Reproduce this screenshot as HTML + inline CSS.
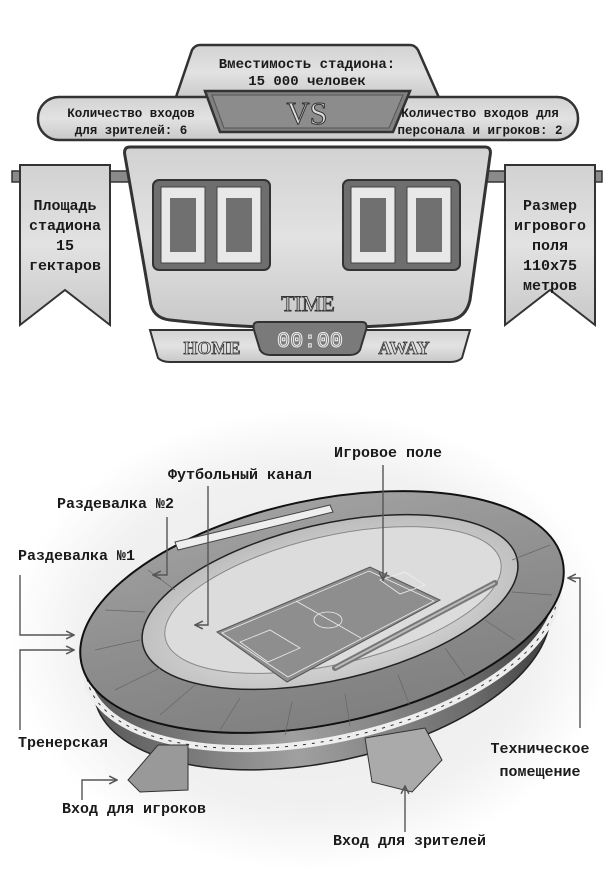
<!DOCTYPE html>
<html><head><meta charset="utf-8"><style>
html,body{margin:0;padding:0;background:#fff}
svg{display:block}
text{font-family:"Liberation Mono","DejaVu Sans Mono",monospace;font-weight:bold;fill:#1a1a1a}
</style></head><body>
<svg width="613" height="886" viewBox="0 0 613 886" xmlns="http://www.w3.org/2000/svg">
<defs>
<radialGradient id="bg" cx="50%" cy="50%" r="50%"><stop offset="0" stop-color="#e8e8e8"/><stop offset="0.75" stop-color="#f1f1f1"/><stop offset="1" stop-color="#fff"/></radialGradient>
<linearGradient id="pan" x1="0" y1="0" x2="0" y2="1"><stop offset="0" stop-color="#d2d2d2"/><stop offset="0.5" stop-color="#e2e2e2"/><stop offset="1" stop-color="#c8c8c8"/></linearGradient>
<linearGradient id="roof" x1="0" y1="0" x2="0" y2="1"><stop offset="0" stop-color="#a0a0a0"/><stop offset="0.5" stop-color="#8e8e8e"/><stop offset="1" stop-color="#808080"/></linearGradient>
<linearGradient id="base" x1="0" y1="0" x2="1" y2="0"><stop offset="0" stop-color="#5a5a5a"/><stop offset="0.4" stop-color="#a0a0a0"/><stop offset="0.8" stop-color="#6a6a6a"/><stop offset="1" stop-color="#3a3a3a"/></linearGradient>
<radialGradient id="inner" cx="50%" cy="55%" r="55%"><stop offset="0" stop-color="#f4f4f4"/><stop offset="1" stop-color="#bcbcbc"/></radialGradient>
<marker id="ah" viewBox="0 0 10 10" refX="9" refY="5" markerWidth="7" markerHeight="7" orient="auto"><path d="M1,1 L9,5 L1,9" fill="none" stroke="#555" stroke-width="1.5"/></marker>
</defs>

<ellipse cx="310" cy="640" rx="300" ry="230" fill="url(#bg)"/>

<!-- ===== Scoreboard ===== -->
<rect x="12" y="171" width="590" height="11" fill="#8a8a8a" stroke="#333" stroke-width="1.5"/>
<path d="M20,165 H110 V325 L65,290 L20,325 Z" fill="url(#pan)" stroke="#333" stroke-width="2"/>
<path d="M505,165 H595 V325 L550,290 L505,325 Z" fill="url(#pan)" stroke="#333" stroke-width="2"/>
<path d="M192,50 Q195,45 200,45 H410 Q415,45 418,50 L440,100 H175 Z" fill="url(#pan)" stroke="#333" stroke-width="2.5"/>
<rect x="38" y="97" width="540" height="43" rx="21" fill="url(#pan)" stroke="#333" stroke-width="2.5"/>
<path d="M205,91 H410 L393,132 H220 Z" fill="#808080" stroke="#333" stroke-width="2.5"/>
<path d="M212,95 H403 L389,128 H224 Z" fill="#8c8c8c" stroke="#555" stroke-width="1"/>
<text x="307" y="124" text-anchor="middle" font-size="32" style="font-family:'Liberation Serif',serif;font-weight:normal;fill:#ddd;stroke:#333;stroke-width:1">VS</text>
<path d="M130,147 H485 Q492,147 490,156 L470,300 Q466,318 450,320 Q310,336 170,320 Q152,318 150,300 L125,156 Q123,147 130,147 Z" fill="url(#pan)" stroke="#333" stroke-width="3"/>
<g stroke="#333" stroke-width="2">
<rect x="153" y="180" width="117" height="90" rx="6" fill="#6e6e6e"/>
<rect x="343" y="180" width="117" height="90" rx="6" fill="#6e6e6e"/>
</g>
<g fill="#e8e8e8" stroke="#444" stroke-width="1">
<rect x="161" y="187" width="44" height="76"/><rect x="217" y="187" width="44" height="76"/>
<rect x="351" y="187" width="44" height="76"/><rect x="407" y="187" width="44" height="76"/>
</g>
<g fill="#707070">
<rect x="170" y="198" width="26" height="54"/><rect x="226" y="198" width="26" height="54"/>
<rect x="360" y="198" width="26" height="54"/><rect x="416" y="198" width="26" height="54"/>
</g>
<text x="308" y="311" text-anchor="middle" font-size="22" style="font-family:'Liberation Serif',serif;font-weight:normal;fill:#ddd;stroke:#333;stroke-width:0.9">TIME</text>
<path d="M150,330 H470 L462,358 Q458,362 450,362 H170 Q162,362 158,358 Z" fill="url(#pan)" stroke="#333" stroke-width="2"/>
<path d="M258,322 H362 Q368,322 366,330 L360,350 Q357,355 350,355 H270 Q263,355 260,350 L254,330 Q252,322 258,322 Z" fill="#7a7a7a" stroke="#333" stroke-width="2"/>
<text x="310" y="347" text-anchor="middle" font-size="22" style="font-weight:normal;fill:#777;stroke:#eee;stroke-width:1">00:00</text>
<text x="212" y="354" text-anchor="middle" font-size="18" style="font-family:'Liberation Serif',serif;fill:#ddd;stroke:#333;stroke-width:0.8">HOME</text>
<text x="404" y="354" text-anchor="middle" font-size="18" style="font-family:'Liberation Serif',serif;fill:#ddd;stroke:#333;stroke-width:0.8">AWAY</text>

<text x="307" y="68" text-anchor="middle" font-size="14">Вместимость стадиона:</text>
<text x="307" y="85" text-anchor="middle" font-size="14">15 000 человек</text>
<text x="131" y="117" text-anchor="middle" font-size="12.5">Количество входов</text>
<text x="131" y="134" text-anchor="middle" font-size="12.5">для зрителей: 6</text>
<text x="480" y="117" text-anchor="middle" font-size="12.5">Количество входов для</text>
<text x="480" y="134" text-anchor="middle" font-size="12.5">персонала и игроков: 2</text>
<g font-size="15" text-anchor="middle">
<text x="65" y="210">Площадь</text><text x="65" y="230">стадиона</text><text x="65" y="250">15</text><text x="65" y="270">гектаров</text>
<text x="550" y="210">Размер</text><text x="550" y="230">игрового</text><text x="550" y="250">поля</text><text x="550" y="270">110x75</text><text x="550" y="290">метров</text>
</g>

<!-- ===== Stadium ===== -->
<ellipse cx="322" cy="652" rx="232" ry="110" transform="rotate(-12 322 652)" fill="url(#base)" stroke="#222" stroke-width="1.5"/>
<ellipse cx="322" cy="630" rx="240" ry="110" transform="rotate(-12 322 630)" fill="none" stroke="#eee" stroke-width="7"/>
<ellipse cx="322" cy="630" rx="240" ry="110" transform="rotate(-12 322 630)" fill="none" stroke="#333" stroke-width="1" stroke-dasharray="3 6"/>
<!-- stairs -->
<polygon points="158,745 188,745 188,790 140,792 128,780" fill="#999" stroke="#333"/>
<polygon points="365,738 425,728 442,760 412,792 372,782" fill="#aaa" stroke="#333"/>
<!-- roof -->
<ellipse cx="322" cy="612" rx="246" ry="112" transform="rotate(-12 322 612)" fill="url(#roof)" stroke="#111" stroke-width="2"/>
<ellipse cx="330" cy="602" rx="192" ry="78" transform="rotate(-13 330 602)" fill="url(#inner)" stroke="#222" stroke-width="1.5"/>
<ellipse cx="333" cy="600" rx="172" ry="64" transform="rotate(-13 333 600)" fill="#dcdcdc" stroke="#888" stroke-width="1"/>
<polygon points="217,632 370,567 440,600 287,682" fill="#8e8e8e" stroke="#555"/>
<g fill="none" stroke="#eee" stroke-width="0.8">
<polygon points="222,633 369,571 434,601 288,677"/>
<line x1="296" y1="601" x2="361" y2="638"/>
<ellipse cx="328" cy="620" rx="14" ry="8"/>
<polygon points="240,642 270,630 300,648 268,662"/>
<polygon points="380,580 405,572 425,585 400,594"/>
</g>
<line x1="335" y1="668" x2="495" y2="583" stroke="#777" stroke-width="6" stroke-linecap="round"/>
<line x1="335" y1="668" x2="495" y2="583" stroke="#bbb" stroke-width="2"/>
<polygon points="175,542 330,505 333,512 178,550" fill="#eee" stroke="#444"/>
<g stroke="#666" stroke-width="0.7">
<line x1="95" y1="650" x2="140" y2="640"/><line x1="115" y1="690" x2="160" y2="668"/>
<line x1="160" y1="715" x2="195" y2="685"/><line x1="220" y1="730" x2="240" y2="698"/>
<line x1="285" y1="735" x2="292" y2="702"/><line x1="350" y1="726" x2="345" y2="694"/>
<line x1="410" y1="706" x2="398" y2="675"/><line x1="465" y1="676" x2="445" y2="648"/>
<line x1="515" y1="640" x2="485" y2="620"/><line x1="552" y1="595" x2="512" y2="592"/>
<line x1="550" y1="545" x2="512" y2="560"/><line x1="105" y1="610" x2="145" y2="612"/>
<line x1="148" y1="570" x2="175" y2="590"/>
</g>

<g fill="none" stroke="#555" stroke-width="1.4" marker-end="url(#ah)">
<path d="M383,465 V580"/>
<path d="M208,486 V625 H195"/>
<path d="M167,517 V575 H153"/>
<path d="M20,575 V635 H74"/>
<path d="M20,730 V650 H74"/>
<path d="M580,728 V578 H568"/>
<path d="M405,832 V786"/>
<path d="M82,800 V780 H117"/>
</g>

<g font-size="15">
<text x="334" y="457">Игровое поле</text>
<text x="168" y="479">Футбольный канал</text>
<text x="57" y="508">Раздевалка №2</text>
<text x="18" y="560">Раздевалка №1</text>
<text x="18" y="747">Тренерская</text>
<text x="62" y="813">Вход для игроков</text>
<text x="333" y="845">Вход для зрителей</text>
<text x="540" y="753" text-anchor="middle">Техническое</text>
<text x="540" y="776" text-anchor="middle">помещение</text>
</g>
</svg>
</body></html>
